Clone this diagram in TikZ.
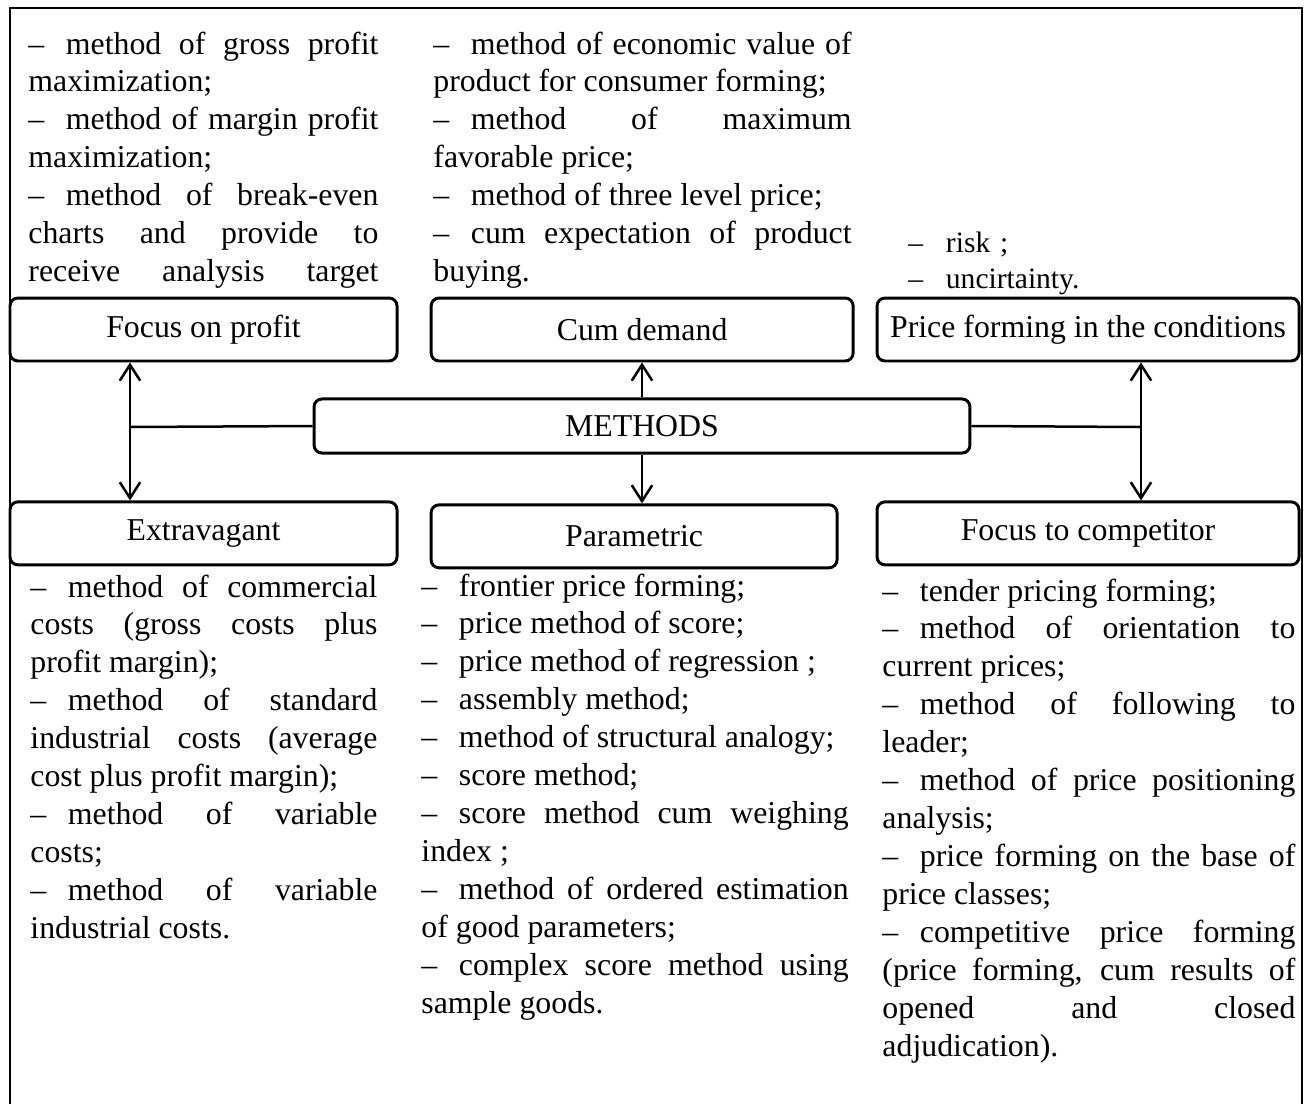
\documentclass[tikz,border=0pt]{standalone}
\usepackage{fontspec}
\setmainfont{Liberation Serif}
\usetikzlibrary{arrows.meta, positioning}

\newcommand{\dsh}{\makebox[16.5pt][l]{--}}
\tolerance=10000
\hbadness=10000

\begin{document}
\begin{tikzpicture}[
    x=0.44pt, y=-0.44pt,
    box/.style={rectangle, draw, rounded corners=3.5pt, line width=1.3pt, minimum width=170.3pt, minimum height=27.7pt, inner sep=0pt, font=\fontsize{14pt}{16.7pt}\selectfont},
    widebox/.style={box, minimum width=185.7pt},
    hubbox/.style={box, minimum width=288.6pt, minimum height=23.8pt},
    itemtext/.style={anchor=base west, inner sep=0pt, align=justify, font=\fontsize{14pt}{16.7pt}\selectfont},
    link/.style={line width=1.1pt},
    >={Straight Barb[length=7pt, width=9pt]},
    node distance=60.7pt and 13.7pt
]
\useasboundingbox (0,0) rectangle (1311,1104);

% frame
\draw[line width=0.9pt] (10,1104) -- (10,8) -- (1302,8) -- (1302,1104);

% top row
\node[box] (profit) at (203.5,329.5) {Focus on profit};
\node[widebox, right=of profit] (demand) {Cum demand};
\node[widebox, right=9.2pt of demand] (cond) {Price forming in the conditions};

% centre
\node[hubbox] (methods) at (642,426) {METHODS};

% bottom row
\node[box, below=of profit] (extrav) {Extravagant};
\node[box, minimum width=178.6pt, right=of extrav, yshift=-1.3pt] (param) {Parametric};
\node[widebox, below=of cond] (compet) {Focus to competitor};

% lists above
\node[itemtext, text width=154pt] (profitlist) at (28,54) {%
\dsh method of gross profit\linebreak maximization;\par
\dsh method of margin profit\linebreak maximization;\par
\dsh method of break-even\linebreak charts and provide to\linebreak receive analysis target{\parfillskip=0pt\par}};
\node[itemtext, text width=184pt] (demandlist) at (433,54) {%
\dsh method of economic value of\linebreak product for consumer forming;\par
\dsh method of maximum\linebreak favorable price;\par
\dsh method of three level price;\par
\dsh cum expectation of product\linebreak buying.};
\node[itemtext, text width=100pt, align=left, font=\fontsize{13pt}{16pt}\selectfont] (condlist) at (908,252) {%
\dsh risk ;\par
\dsh uncirtainty.};

% lists below
\node[itemtext, text width=152.7pt] (extravlist) at (30,597) {%
\dsh method of commercial\linebreak costs (gross costs plus\linebreak profit margin);\par
\dsh method of standard\linebreak industrial costs (average\linebreak cost plus profit margin);\par
\dsh method of variable\linebreak costs;\par
\dsh method of variable\linebreak industrial costs.};
\node[itemtext, text width=188pt] (paramlist) at (421,596) {%
\dsh frontier price forming;\par
\dsh price method of score;\par
\dsh price method of regression ;\par
\dsh assembly method;\par
\dsh method of structural analogy;\par
\dsh score method;\par
\dsh score method cum weighing\linebreak index ;\par
\dsh method of ordered estimation\linebreak of good parameters;\par
\dsh complex score method using\linebreak sample goods.};
\node[itemtext, text width=181.7pt] (competlist) at (882,601) {%
\dsh tender pricing forming;\par
\dsh method of orientation to\linebreak current prices;\par
\dsh method of following to\linebreak leader;\par
\dsh method of price positioning\linebreak analysis;\par
\dsh price forming on the base of\linebreak price classes;\par
\dsh competitive price forming\linebreak (price forming, cum results of\linebreak opened and closed\linebreak adjudication).};

% connectors
\coordinate (lj) at (130,427);
\coordinate (rj) at (1141,427);
\draw[link] (methods.west) -- (lj);
\draw[link] (methods.east) -- (rj);
\draw[link, <->] (lj |- profit.south) -- (lj |- extrav.north);
\draw[link, <->] (rj |- cond.south) -- (rj |- compet.north);
\draw[link, ->] (methods.north) -- (methods.north |- demand.south);
\draw[link, ->] (methods.south) -- (methods.south |- param.north);

\end{tikzpicture}
\end{document}
